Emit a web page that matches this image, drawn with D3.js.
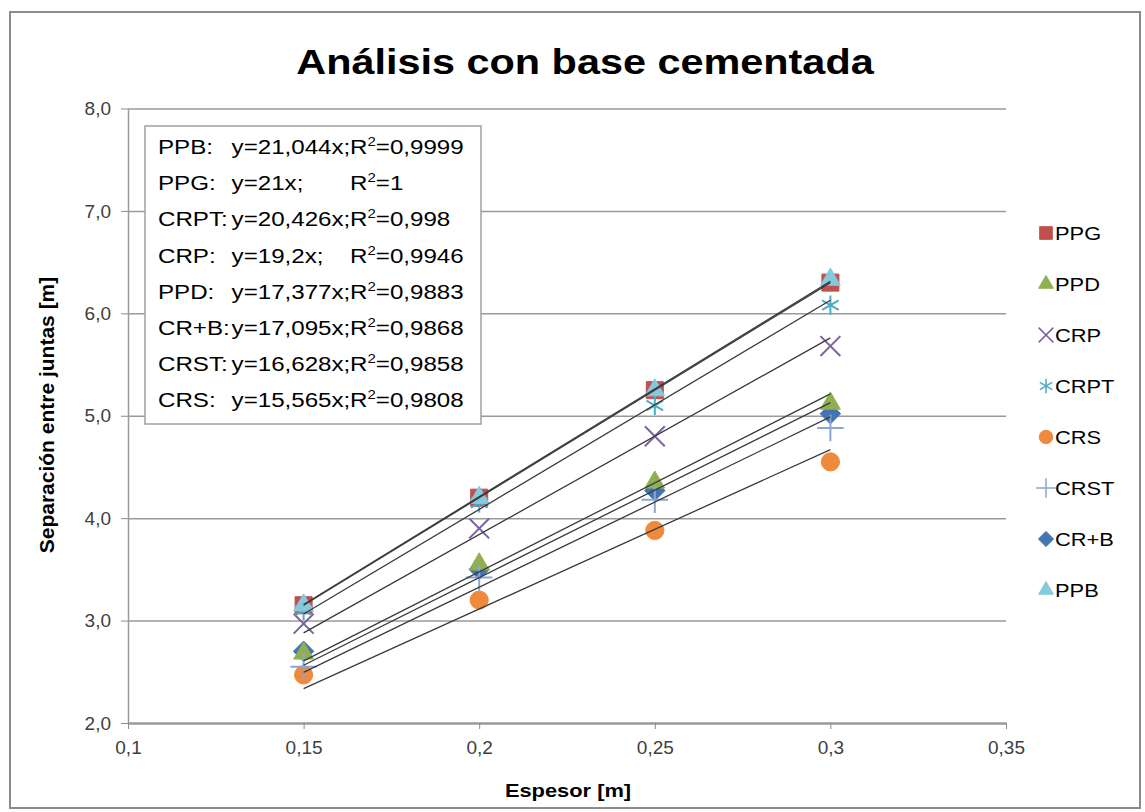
<!DOCTYPE html>
<html lang="es">
<head>
  <meta charset="UTF-8">
  <title>Análisis con base cementada</title>
  <script src="https://d3js.org/d3.v7.min.js"></script>
  <style>
    html, body { margin: 0; padding: 0; background: #fff; }
    svg text { font-family: "Liberation Sans", Arial, sans-serif; fill: #000; }
    .tick text { font-size: 19px; fill: #404040; }
    .grid line { stroke: #9a9a9a; stroke-width: 1.5; }
    .grid path { display: none; }
    .trend { fill: none; stroke: #3a3a3a; stroke-width: 1.3; }
  </style>
</head>
<body>
<div id="chart"></div>
<script>
  // data
  const xVals = [0.15, 0.2, 0.25, 0.3];
  const legendNames = ["PPG", "PPD", "CRP", "CRPT", "CRS", "CRST", "CR+B", "PPB"];
  const PPG  = [3.15, 4.2, 5.25, 6.3];
  const PPD  = [2.68, 3.55, 4.35, 5.12];
  const CRP  = [2.97, 3.9, 4.8, 5.68];
  const CRPT = [3.1, 4.15, 5.1, 6.08];
  const CRS  = [2.47, 3.2, 3.88, 4.55];
  const CRST = [2.55, 3.42, 4.18, 4.88];
  const CRB  = [2.7, 3.5, 4.27, 5.02];
  const PPB  = [3.15, 4.2, 5.25, 6.33];

  // equations shown in the text box
  const eqNames  = ["PPB:", "PPG:", "CRPT:", "CRP:", "PPD:", "CR+B:", "CRST:", "CRS:"];
  const eqSlopes = ["21,044", "21", "20,426", "19,2", "17,377", "17,095", "16,628", "15,565"];
  const eqR2     = ["0,9999", "1", "0,998", "0,9946", "0,9883", "0,9868", "0,9858", "0,9808"];

  const xTicks = [0.1, 0.15, 0.2, 0.25, 0.3, 0.35];
  const yTicks = [2, 3, 4, 5, 6, 7, 8];

  const W = 1145, H = 812;
  const SX = 1.15; // the picture is a bit stretched sideways

  // square turned 45 degrees, like the spreadsheet diamond
  const squareDiamond = {
    draw(ctx, size) {
      const r = Math.sqrt(size / 2);
      ctx.moveTo(0, -r); ctx.lineTo(r, 0); ctx.lineTo(0, r); ctx.lineTo(-r, 0); ctx.closePath();
    }
  };

  const series = [
    { name: "CR+B", values: CRB,  color: "#4474b4", sym: squareDiamond,     size: 210, fill: true },
    { name: "PPG",  values: PPG,  color: "#c0504d", sym: d3.symbolSquare,   size: 290, fill: true },
    { name: "PPD",  values: PPD,  color: "#8fb04f", sym: d3.symbolTriangle, size: 170, fill: true },
    { name: "CRP",  values: CRP,  color: "#7c63a0", sym: d3.symbolTimes,    size: 260, fill: false },
    { name: "CRPT", values: CRPT, color: "#4bacc6", sym: d3.symbolAsterisk, size: 260, fill: false },
    { name: "CRS",  values: CRS,  color: "#ef8a3c", sym: d3.symbolCircle,   size: 260, fill: true },
    { name: "CRST", values: CRST, color: "#8aa6d2", sym: d3.symbolPlus,     size: 230, fill: false },
    { name: "PPB",  values: PPB,  color: "#86c8dc", sym: d3.symbolTriangle, size: 170, fill: true }
  ];
  const byName = {};
  series.forEach(s => byName[s.name] = s);

  const x = d3.scaleLinear().domain([0.1, 0.35]).range([128, 1006]);
  const y = d3.scaleLinear().domain([2, 8]).range([723, 108.5]);

  const svg = d3.select("#chart").append("svg")
    .attr("width", W).attr("height", H);

  svg.append("rect")
    .attr("x", 10).attr("y", 12).attr("width", 1130).attr("height", 796)
    .attr("fill", "#fff").attr("stroke", "#8c8c8c").attr("stroke-width", 2);

  // stretched text helper
  function label(g, txt, px, py, size, opts = {}) {
    return g.append("text")
      .attr("transform", `translate(${px},${py}) scale(${opts.rot ? 1 : SX},1)${opts.rot ? " rotate(-90)" : ""}`)
      .attr("text-anchor", opts.anchor || "start")
      .attr("font-size", size)
      .attr("font-weight", opts.bold ? "bold" : null)
      .text(txt);
  }

  label(svg, "Análisis con base cementada", 585, 74, 36, { anchor: "middle", bold: true });

  // gridlines
  svg.append("g").attr("class", "grid")
    .attr("transform", `translate(${x(0.1)},0)`)
    .call(d3.axisLeft(y).tickValues(yTicks.slice(1)).tickSize(-(x(0.35) - x(0.1))).tickFormat(""));

  // axes
  const yAxis = svg.append("g")
    .attr("transform", `translate(${x(0.1)},0)`)
    .call(d3.axisLeft(y).tickValues(yTicks).tickSize(7).tickSizeOuter(0).tickPadding(10)
      .tickFormat(d => d.toFixed(1).replace(".", ",")));
  const xAxis = svg.append("g")
    .attr("transform", `translate(0,${y(2)})`)
    .call(d3.axisBottom(x).tickValues(xTicks).tickSize(6).tickSizeOuter(0).tickPadding(12)
      .tickFormat(d => String(d).replace(".", ",")));
  [yAxis, xAxis].forEach(a => {
    a.select(".domain").attr("stroke", "#9a9a9a").attr("stroke-width", 1.5);
    a.selectAll(".tick line").attr("stroke", "#8a8a8a");
  });
  xAxis.select(".domain").attr("stroke-width", 2.5);

  label(svg, "Espesor [m]", 568, 797, 19, { anchor: "middle", bold: true });
  label(svg, "Separación entre juntas [m]", 54, 415, 21, { anchor: "middle", bold: true, rot: true });

  // markers
  const sym = d3.symbol();
  series.forEach(s => {
    svg.append("g").selectAll("path")
      .data(s.values.map((v, i) => [xVals[i], v]))
      .join("path")
      .attr("transform", d => `translate(${x(d[0])},${y(d[1])})`)
      .attr("d", sym.type(s.sym).size(s.size))
      .attr("fill", s.fill ? s.color : "none")
      .attr("stroke", s.color)
      .attr("stroke-width", s.fill ? 1 : 2);
  });

  // trendlines y = a*x over the data range
  const line = d3.line().x(d => x(d[0])).y(d => y(d[1]));
  eqSlopes.forEach(sl => {
    const a = +sl.replace(",", ".");
    const ends = [xVals[0], xVals[xVals.length - 1]];
    svg.append("path").attr("class", "trend")
      .attr("d", line(ends.map(v => [v, a * v])));
  });

  // equation box
  svg.append("rect")
    .attr("x", 145).attr("y", 126).attr("width", 336).attr("height", 298)
    .attr("fill", "#fff").attr("stroke", "#a0a0a0").attr("stroke-width", 1.5);
  eqNames.forEach((n, i) => {
    const g = svg.append("g")
      .attr("transform", `translate(158,${154 + i * 36.2}) scale(${SX},1)`)
      .attr("font-size", 21);
    g.append("text").attr("x", 0).text(n);
    g.append("text").attr("x", 64).text(`y=${eqSlopes[i]}x;`);
    const r = g.append("text").attr("x", 167).text("R");
    r.append("tspan").attr("dy", -8).attr("font-size", 13).text("2");
    r.append("tspan").attr("dy", 8).text(`=${eqR2[i]}`);
  });

  // legend
  legendNames.forEach((n, i) => {
    const s = byName[n];
    const ly = 233 + i * 51;
    svg.append("path")
      .attr("transform", `translate(1046,${ly})`)
      .attr("d", sym.type(s.sym).size(s.size * 0.55))
      .attr("fill", s.fill ? s.color : "none")
      .attr("stroke", s.color)
      .attr("stroke-width", s.fill ? 1 : 1.5);
    label(svg, n, 1055, ly + 7, 19);
  });
</script>
</body>
</html>
